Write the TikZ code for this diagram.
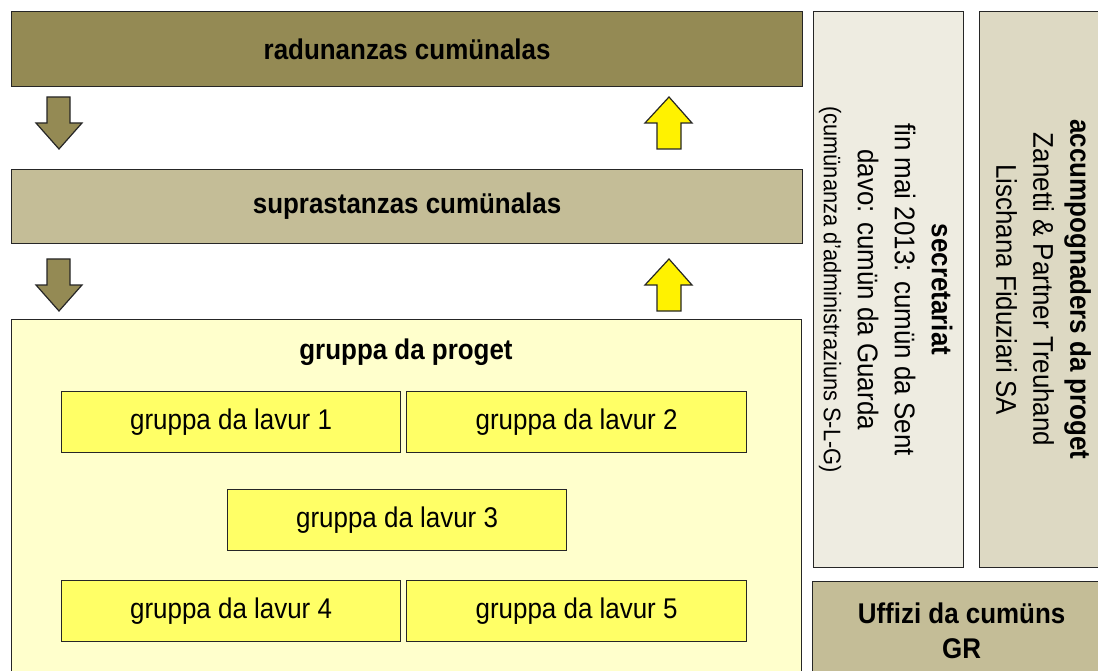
\documentclass[tikz,border=0pt]{standalone}
\usepackage{fontspec}
\setmainfont{Liberation Sans}[FakeStretch=0.91]
\definecolor{olive}{HTML}{948A54}
\definecolor{khaki}{HTML}{C4BD97}
\definecolor{paleyel}{HTML}{FFFFCC}
\definecolor{lavyel}{HTML}{FFFF66}
\definecolor{secfill}{HTML}{EEECE1}
\definecolor{accfill}{HTML}{DDD9C3}
\definecolor{boxline}{HTML}{262626}
\begin{document}
\begin{tikzpicture}[x=1pt,y=-1pt,
  box/.style={draw=boxline, line width=1.2pt, inner sep=0pt, anchor=north west},
  big/.style={font=\fontsize{28.5}{37}\selectfont},
  bigb/.style={font=\fontsize{28.5}{37}\selectfont\bfseries},
  lavur/.style={box, fill=lavyel, minimum height=61pt, big},
  darr/.style={draw=boxline, line width=1.2pt, fill=olive, line join=miter},
  uarr/.style={draw=boxline, line width=1.2pt, fill=yellow, line join=miter}]
\clip (0,0) rectangle (1098,671);
\fill[white] (0,0) rectangle (1098,671);
% main column
\node (rad) [box, fill=olive, minimum width=791pt, minimum height=75pt, bigb] at (11,11) {radunanzas cumünalas};
\node (sup) [box, fill=khaki, minimum width=791pt, minimum height=74pt, bigb] at (11,169) {suprastanzas cumünalas};
\node (prog) [box, fill=paleyel, minimum width=790pt, minimum height=380pt] at (11,319) {};
\node (progt) [bigb] at (406,352) {gruppa da proget};
\node (l1) [lavur, minimum width=339pt] at (61,391) {gruppa da lavur 1};
\node (l2) [lavur, minimum width=340pt] at (406,391) {gruppa da lavur 2};
\node (l3) [lavur, minimum width=339pt] at (227,489) {gruppa da lavur 3};
\node (l4) [lavur, minimum width=339pt] at (61,580) {gruppa da lavur 4};
\node (l5) [lavur, minimum width=340pt] at (406,580) {gruppa da lavur 5};
% side boxes
\node (sec) [box, fill=secfill, minimum width=150pt, minimum height=556pt] at (813,11) {};
\node (sect) [rotate=-90, align=center, big] at ([xshift=-3pt]sec.center)
  {\textbf{secretariat}\\ fin mai 2013: cumün da Sent\\ davo: cumün da Guarda\\[-3pt]
   {\fontsize{24}{30}\selectfont (cumünanza d'administraziuns S-L-G)}};
\node (acc) [box, fill=accfill, minimum width=128pt, minimum height=556pt] at (979,11) {};
\node (acct) [rotate=-90, align=center, big] at (acc.center)
  {\textbf{accumpognaders da proget}\\ Zanetti \& Partner Treuhand\\ Lischana Fiduziari SA};
\node (uff) [box, fill=khaki, minimum width=298pt, minimum height=98pt, align=center,
  font=\fontsize{28.5}{35}\selectfont\bfseries] at (812,581) {Uffizi da cumüns\\ GR};
% block arrows
\foreach \dy in {0,162} {
  \draw[darr] (47,97+\dy) -- (70,97+\dy) -- (70,123+\dy) -- (82,123+\dy) -- (59,149+\dy)
     -- (36,123+\dy) -- (47,123+\dy) -- cycle;
  \draw[uarr] (657,149+\dy) -- (681,149+\dy) -- (681,123+\dy) -- (692,123+\dy) -- (669,97+\dy)
     -- (645,123+\dy) -- (657,123+\dy) -- cycle;
}
\end{tikzpicture}
\end{document}
